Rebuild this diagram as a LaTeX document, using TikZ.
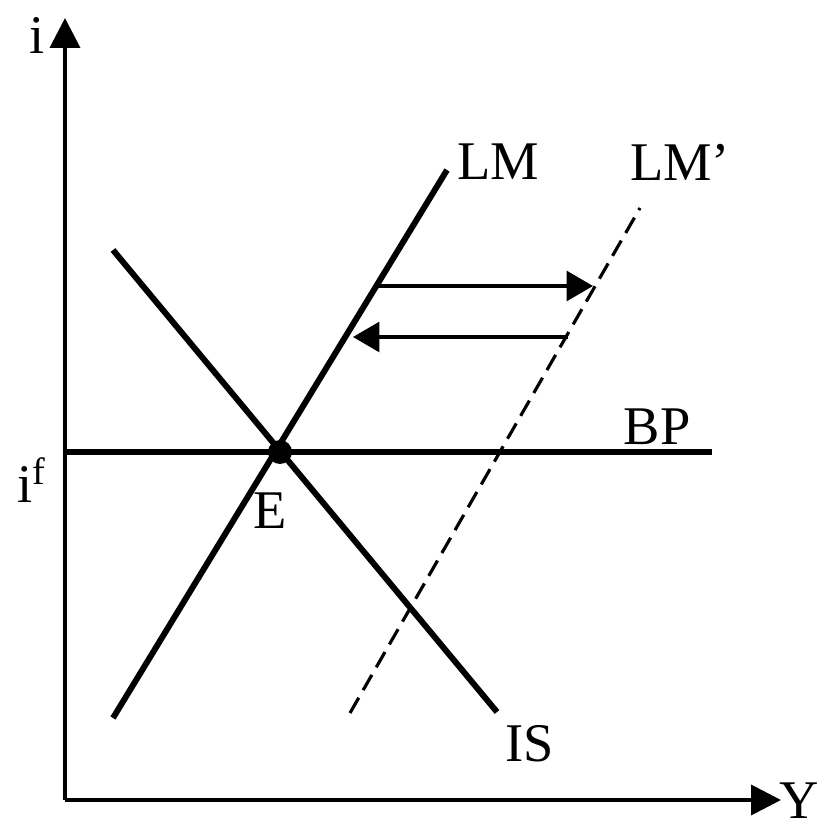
\documentclass[tikz,border=0pt]{standalone}
\usepackage{fontspec}
\setmainfont{Liberation Serif}
\usetikzlibrary{arrows.meta}

\begin{document}
\begin{tikzpicture}[scale=1,
		axis/.style={line width=1.1pt,-{Triangle[length=8.5pt,width=8.5pt]}},
		curve/.style={line width=1.7pt},
		shiftarrow/.style={line width=0.9pt,-{Triangle[length=7.5pt,width=8.5pt]}},
		lbl/.style={font=\fontsize{15.5}{18}\selectfont,inner sep=0pt}]
						
						\useasboundingbox (0,0) rectangle (8.23,8.28);
						
						% axes
						\coordinate (O) at (0.65,0.28);
						\coordinate (itop) at (0.65,8.10);
						\coordinate (yend) at (7.81,0.28);
						\draw[axis] (O) -- (itop);
						\draw[axis] (O) -- (yend);
						\node[lbl] (ilabel) at (0.37,7.93) {i};
						\node[lbl] (ylabel) at (7.99,0.27) {Y};
						
						% BP
						\coordinate (bp1) at (0.65,3.76);
						\coordinate (bp2) at (7.12,3.76);
						\draw[curve] (bp1) -- (bp2);
						\node[lbl] (bplabel) at (6.57,4.01) {BP};
						\node[lbl,anchor=base] (iflabel) at (0.32,3.25) {i\textsuperscript{f}};
						
						% LM and LM'
						\coordinate (lm1) at (1.13,1.10);
						\coordinate (lm2) at (4.47,6.58);
						\draw[curve] (lm1) -- (lm2);
						\node[lbl] (lmlabel) at (4.98,6.66) {LM};
						\coordinate (lmb1) at (3.50,1.15);
						\coordinate (lmb2) at (6.40,6.20);
						\draw[line width=0.9pt,dash pattern=on 5pt off 2.5pt] (lmb1) -- (lmb2);
						\node[lbl] (lmblabel) at (6.80,6.66) {LM'};
						
						% IS
						\coordinate (is1) at (1.13,5.78);
						\coordinate (is2) at (4.97,1.16);
						\draw[curve] (is1) -- (is2);
						\node[lbl] (islabel) at (5.30,0.84) {IS};
						
						% equilibrium
						\fill (2.80,3.76) circle (0.12);
						\coordinate (E) at (2.80,3.76);
						\node[lbl] (elabel) at (2.70,3.17) {E};
						
						% shift arrows
						\coordinate (up1) at (3.78,5.42);
						\coordinate (up2) at (5.93,5.42);
						\coordinate (lo1) at (5.68,4.91);
						\coordinate (lo2) at (3.53,4.91);
						\draw[shiftarrow] (up1) -- (up2);
						\draw[shiftarrow] (lo1) -- (lo2);
						
					\end{tikzpicture}
\end{document}
